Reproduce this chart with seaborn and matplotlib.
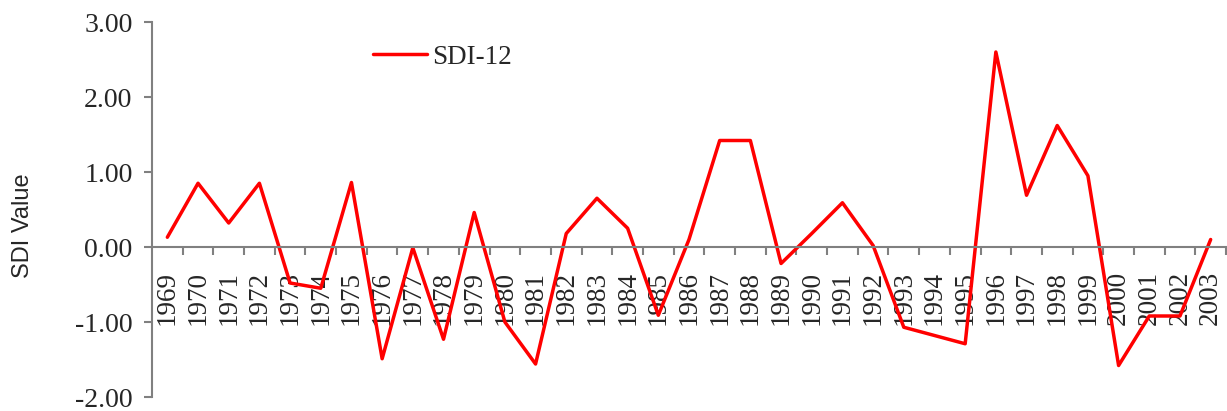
import matplotlib
matplotlib.use("Agg")
import matplotlib.pyplot as plt
import numpy as np
import pandas as pd
import seaborn as sns
from matplotlib.ticker import FixedLocator

YEARS = list(range(1969, 2004))
SDI_12 = [0.13, 0.85, 0.32, 0.85, -0.48, -0.55, 0.86, -1.49, -0.01, -1.23,
          0.46, -1.00, -1.56, 0.18, 0.65, 0.25, -0.91, 0.10, 1.42, 1.42,
          -0.22, 0.18, 0.59, 0.02, -1.07, -1.18, -1.29, 2.60, 0.69, 1.62,
          0.95, -1.58, -0.92, -0.92, 0.10]
Y_TICKS = [-2, -1, 0, 1, 2, 3]

df = pd.DataFrame({"Year": YEARS, "SDI-12": SDI_12})

sns.set_style("white")
plt.rcParams["font.family"] = ["Liberation Serif", "DejaVu Serif"]

W, H = 1227, 411
fig = plt.figure(figsize=(W / 100, H / 100), dpi=100)
ax = fig.add_axes([152 / W, 1 - 397 / H, (1226 - 152) / W, (397 - 22) / H])

sns.lineplot(data=df, x="Year", y="SDI-12", color="#ff0000", linewidth=2.5,
             label="SDI-12", ax=ax)

ax.set_xlim(YEARS[0] - 0.5, YEARS[-1] + 0.5)
ax.set_ylim(-2, 3)
ax.set_yticks(Y_TICKS)
ax.set_yticklabels([f"{v:.2f}" for v in Y_TICKS], fontsize=20)

# x axis crosses at zero, ticks between categories, labels on the years
ax.spines["bottom"].set_position(("data", 0))
ax.spines["top"].set_visible(False)
ax.spines["right"].set_visible(False)
for s in ("left", "bottom"):
    ax.spines[s].set_color("#808080")
    ax.spines[s].set_linewidth(1.5)
ax.xaxis.set_major_locator(FixedLocator([y + 0.5 for y in YEARS]))
ax.tick_params(axis="x", which="major", bottom=True, length=6, width=1.5,
               color="#808080", labelbottom=False, direction="out")
ax.tick_params(axis="y", which="major", left=True, length=6, width=1.5,
               color="#808080", direction="out", pad=8)
ax.set_xticks(YEARS, minor=True)
ax.set_xticklabels([str(y) for y in YEARS], minor=True, rotation=90,
                   fontsize=19.5, va="top")
ax.tick_params(axis="x", which="minor", bottom=True, length=0, pad=17)
ax.set_xlabel("")

ax.set_ylabel("SDI Value", fontsize=17, family=["Liberation Sans", "DejaVu Sans"])
ax.yaxis.set_label_coords(-0.110, 0.456)

ax.legend(loc="center left", bbox_to_anchor=(373 / W, 1 - 57 / H),
          bbox_transform=fig.transFigure, frameon=False, fontsize=19.5,
          borderpad=0, borderaxespad=0, handlelength=2.0, handletextpad=0.2)

fig.savefig("out.png", dpi=100)
